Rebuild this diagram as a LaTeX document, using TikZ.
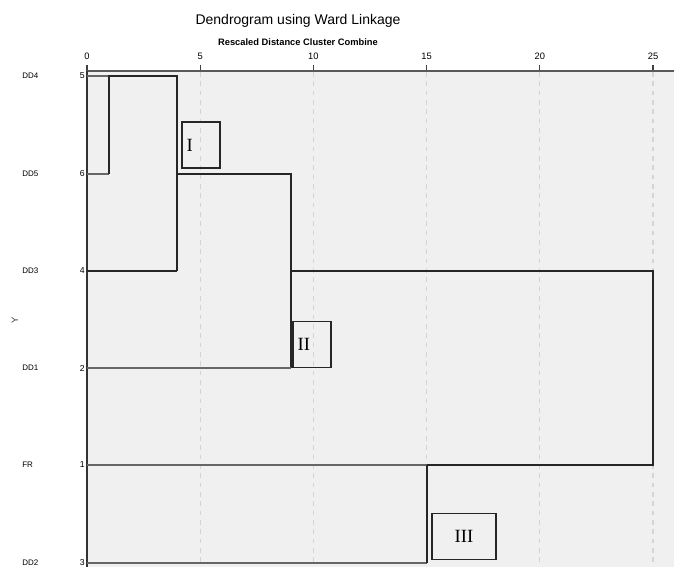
\documentclass[tikz,border=0pt]{standalone}
\usepackage{fontspec}
\setmainfont{Liberation Sans}
\newfontfamily\romanfont{Liberation Serif}
\definecolor{plotbg}{HTML}{F0F0F0}
\definecolor{gridgray}{HTML}{D4D4D4}
\begin{document}
\begin{tikzpicture}[x=0.75pt,y=-0.75pt,
    leaf/.style={draw=black!60, line width=0.9pt},
    link/.style={draw=black!85, line width=0.9pt},
    gridline/.style={draw=gridgray, line width=0.8pt, dash pattern=on 3.5pt off 3.5pt},
    rowlab/.style={anchor=west, inner sep=0pt, font=\fontsize{6}{7}\selectfont},
    numlab/.style={anchor=east, inner sep=0pt, font=\fontsize{6.5}{7}\selectfont},
    ticklab/.style={inner sep=0pt, font=\fontsize{7}{8}\selectfont},
    romanbox/.style={draw=black!85, line width=0.8pt, minimum height=34.5pt,
        inner xsep=3.5pt, font=\romanfont\fontsize{14}{16}\selectfont}]
    \useasboundingbox (0,0) rectangle (674,567);

    % plot area
    \fill[plotbg] (87,72) rectangle (674,567);

    % titles
    \node[font=\fontsize{10.5}{12}\selectfont] (title) at (298,21) {Dendrogram using Ward Linkage};
    \node[font=\bfseries\fontsize{7}{8}\selectfont] (subtitle) at (298,42) {Rescaled Distance Cluster Combine};

    % grid, ticks and scale
    \foreach \v in {0,5,...,25} {
        \draw[gridline] ({87+22.64*\v},72) -- ({87+22.64*\v},567);
        \draw[black!75, line width=0.8pt] ({87+22.64*\v},65) -- ({87+22.64*\v},72);
        \node[ticklab] (tick\v) at ({87+22.64*\v},56) {\v};
    }
    \draw[black!65, line width=1.4pt] (87,71) -- (674,71);
    \draw[black!80, line width=1pt] (87,71) -- (87,567);

    % axis label
    \node[rotate=90, font=\fontsize{7}{8}\selectfont, text=black!75] (ylab) at (15,320) {Y};

    % leaves
    \foreach \name/\num/\y in {DD4/5/76, DD5/6/174, DD3/4/271, DD1/2/368, FR/1/465, DD2/3/563} {
        \node[rowlab] (lab-\name) at (22,\y) {\name};
        \node[numlab] (num-\name) at (85,\y) {\num};
        \coordinate (\name) at (87,\y);
    }

    % joins
    \coordinate (j1a) at (109,76);
    \coordinate (j1b) at (109,174);
    \coordinate (j2a) at (177,76);
    \coordinate (j2m) at (177,174);
    \coordinate (j2b) at (177,271);
    \coordinate (j3a) at (291,174);
    \coordinate (j3m) at (291,271);
    \coordinate (j3b) at (291,368);
    \coordinate (j4a) at (427,465);
    \coordinate (j4b) at (427,563);
    \coordinate (j5a) at (653,271);
    \coordinate (j5b) at (653,465);

    \draw[leaf] (DD4) -- (j1a);
    \draw[leaf] (DD5) -- (j1b);
    \draw[link] (j1b) -- (j1a) -- (j2a) -- (j2b);
    \draw[link] (DD3) -- (j2b);
    \draw[link] (j2m) -- (j3a) -- (j3b);
    \draw[leaf] (DD1) -- (j3b);
    \draw[leaf] (FR) -- (j4a);
    \draw[leaf] (DD2) -- (j4b);
    \draw[link] (j4b) -- (j4a);
    \draw[link] (j3m) -- (j5a) -- (j5b) -- (j4a);

    % cluster marks
    \node[romanbox, text width=21.5pt, align=left] (boxI) at (201,145) {I};
    \node[romanbox, text width=21.5pt, align=left] (boxII) at (312,344.5) {II};
    \node[romanbox, text width=41pt, align=center] (boxIII) at (464,536.5) {III};
\end{tikzpicture}
\end{document}
